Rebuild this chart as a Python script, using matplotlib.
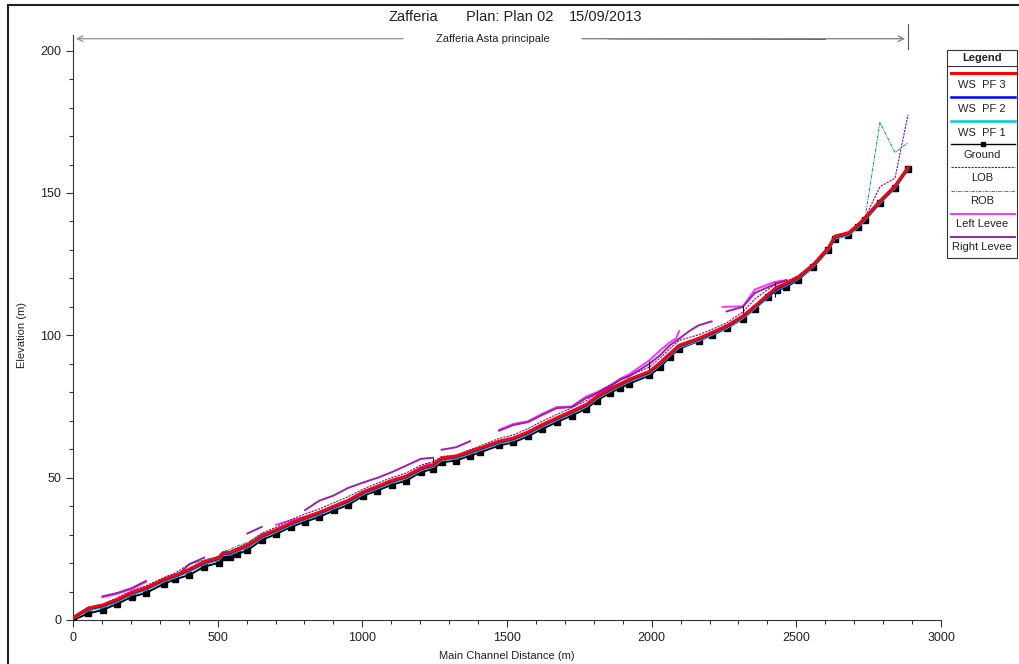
import numpy as np
import matplotlib
matplotlib.use("Agg")
import matplotlib.pyplot as plt
from matplotlib.lines import Line2D
from matplotlib.patches import Rectangle
from matplotlib.ticker import MultipleLocator

plt.rcParams['font.family'] = ['Liberation Sans', 'DejaVu Sans']

nan = np.nan

# river stations (m) and profiles (m)
station = [0, 53, 102, 153, 203, 252, 316, 353, 402, 453, 503, 519, 542, 566, 603, 652,
           702, 753, 802, 851, 902, 951, 1003, 1051, 1101, 1151, 1202, 1245, 1274, 1324,
           1372, 1407, 1473, 1522, 1572, 1621, 1672, 1723, 1774, 1810, 1857, 1892, 1922,
           1992, 2029, 2063, 2095, 2162, 2207, 2259, 2315, 2357, 2403, 2432, 2466, 2507,
           2559, 2611, 2633, 2680, 2714, 2738, 2789, 2841, 2886]
ground = [0, 2.3, 3.5, 5.7, 8.1, 9.5, 12.8, 14.3, 15.8, 18.7, 20.1, 22.0, 22.0, 23.1, 24.5,
          28.1, 30.2, 32.7, 34.5, 36.2, 38.5, 40.4, 43.7, 45.4, 47.5, 48.9, 51.9, 53.1, 55.4,
          56.0, 57.7, 58.9, 61.3, 62.4, 64.5, 67.1, 69.5, 71.8, 74.2, 77.1, 79.8, 81.6, 83.0,
          85.9, 88.8, 92.4, 95.3, 98.0, 100.0, 102.4, 105.9, 109.4, 113.5, 115.8, 117.0,
          119.6, 124.0, 129.9, 134.0, 135.2, 138.1, 140.5, 146.4, 151.7, 158.3]
ws_pf3 = [0.8, 4.2, 5.2, 7.2, 9.7, 11.3, 14.4, 15.7, 17.8, 20.4, 21.8, 23.6, 23.7, 24.8, 26.3,
          29.6, 31.7, 34.1, 36.0, 37.8, 40.0, 42.0, 45.0, 46.9, 49.0, 50.5, 53.3, 54.6, 56.9,
          57.5, 59.2, 60.4, 62.8, 63.9, 66.0, 68.6, 71.0, 73.3, 75.7, 78.5, 81.2, 83.0, 84.5,
          87.3, 90.4, 93.6, 96.5, 98.9, 100.9, 103.3, 106.8, 110.3, 114.4, 116.9, 118.3,
          120.5, 124.9, 130.8, 134.8, 136.0, 138.9, 141.4, 147.2, 152.5, 159.0]
ws_pf2 = [0.7, 3.9, 4.9, 6.9, 9.4, 11.0, 14.1, 15.4, 17.5, 20.1, 21.5, 23.3, 23.4, 24.5, 26.0,
          29.3, 31.4, 33.8, 35.7, 37.5, 39.7, 41.7, 44.7, 46.6, 48.7, 50.2, 53.0, 54.3, 56.6,
          57.2, 58.9, 60.1, 62.5, 63.6, 65.7, 68.3, 70.7, 73.0, 75.4, 78.2, 80.9, 82.7, 84.2,
          87.0, 90.1, 93.3, 96.2, 98.6, 100.6, 103.0, 106.5, 110.0, 113.9, 116.3, 117.9,
          120.2, 124.6, 130.5, 134.5, 135.7, 138.6, 141.1, 146.9, 152.2, 158.7]
ws_pf1 = [0.5, 3.5, 4.5, 6.5, 9.0, 10.6, 13.7, 15.0, 17.1, 19.7, 21.1, 22.9, 23.0, 24.1, 25.6,
          28.9, 31.0, 33.4, 35.3, 37.1, 39.3, 41.3, 44.3, 46.2, 48.3, 49.8, 52.6, 53.9, 56.2,
          56.8, 58.5, 59.7, 62.1, 63.2, 65.3, 67.9, 70.3, 72.6, 75.0, 77.8, 80.5, 82.3, 83.8,
          86.6, 89.7, 92.9, 95.8, 98.2, 100.2, 102.6, 106.1, 109.6, 113.6, 116.0, 117.6,
          119.9, 124.2, 130.1, 134.1, 135.3, 138.2, 140.7, 146.5, 151.8, 158.4]
lob = [1.0, 4.5, 5.6, 7.8, 10.3, 12.0, 15.0, 16.5, 19.6, 21.0, 22.3, 24.0, 24.2, 25.3, 27.0,
       30.5, 32.6, 35.2, 37.3, 39.0, 41.2, 43.3, 46.0, 48.0, 50.0, 51.6, 54.4, 55.6, 57.4,
       58.0, 59.8, 61.1, 63.8, 65.0, 67.2, 69.8, 72.2, 74.5, 77.0, 79.8, 82.5, 84.4, 85.8,
       88.8, 92.0, 95.3, 98.2, 100.2, 102.0, 104.4, 108.2, 112.8, 116.2, 118.3, 119.0,
       121.0, 125.2, 131.0, 135.0, 136.2, 139.2, 141.5, 152.2, 155.2, 177.5]
rob = [1.2, 4.4, 5.4, 7.4, 9.9, 11.5, 14.7, 16.0, 18.2, 21.0, 22.4, 24.0, 24.8, 26.0, 27.2,
       30.2, 32.0, 34.4, 36.3, 38.1, 40.3, 42.3, 45.3, 47.2, 49.3, 50.8, 53.6, 54.9, 57.2,
       57.8, 59.5, 60.7, 63.1, 64.2, 66.3, 68.9, 71.3, 73.6, 76.0, 78.8, 81.5, 83.3, 84.8,
       87.6, 90.7, 93.9, 96.8, 99.2, 101.2, 103.6, 107.1, 110.6, 114.7, 117.2, 118.6,
       120.8, 125.2, 131.1, 135.1, 136.3, 139.2, 141.6, 174.8, 164.2, 167.7]

left_levee_x = [102, 153, 203, 252, nan,
                702, 753, 802, 851, 902, 951, 1003, 1051, 1101, 1151, 1202, 1232, nan,
                1473, 1522, 1572, 1621, 1672, 1723, 1774, 1810, 1857, 1892, 1922, 1992, 2029,
                2063, 2085, 2095, nan,
                2245, 2315, 2357, 2426, 2466]
left_levee_y = [8.0, 9.2, 10.9, 13.4, nan,
                33.5, 35.0, 36.3, 37.8, 39.6, 41.9, 44.8, 46.4, 48.3, 50.7, 53.6, 55.0, nan,
                66.8, 68.9, 69.8, 72.4, 74.8, 75.0, 78.5, 80.0, 82.5, 84.8, 86.3, 91.2, 94.7,
                97.6, 99.0, 101.5, nan,
                110.0, 110.2, 116.1, 118.8, 119.4]
right_levee_x = [102, 153, 203, 252, nan, 370, 402, 453, nan, 603, 652, nan,
                 802, 851, 900, 951, 1003, 1051, 1101, 1151, 1202, 1245, nan,
                 1274, 1324, 1372, nan,
                 1473, 1522, 1572, 1621, 1672, 1723, 1774, 1810, 1857, 1892, 1922, 1992,
                 2029, 2063, 2095, 2130, 2162, 2207, nan,
                 2259, 2315, 2357, 2426, 2466]
right_levee_y = [8.3, 9.5, 11.2, 13.7, nan, 16.5, 19.6, 21.9, nan, 30.4, 32.7, nan,
                 38.6, 41.9, 43.7, 46.4, 48.3, 49.9, 51.9, 54.2, 56.6, 57.0, nan,
                 59.8, 60.7, 62.8, nan,
                 66.5, 68.5, 69.5, 72.0, 74.4, 74.8, 78.0, 79.5, 82.0, 84.5, 85.6, 90.0,
                 93.0, 96.5, 98.8, 101.5, 103.5, 104.9, nan,
                 108.4, 110.0, 114.9, 118.0, 119.4]

# structures (bridges / weirs)
struct_x = [1245, 1992, 2315, 2426]
struct_lo = [53.1, 85.9, 105.9, 113.5]
struct_hi = [57.0, 91.0, 110.2, 118.8]

W, H = 1019, 664
fig = plt.figure(figsize=(W / 100, H / 100), dpi=100)


def fx(px):
    return px / W


def fy(py):
    return 1 - py / H


ax = fig.add_axes([fx(73), fy(620), fx(941) - fx(73), fy(35) - fy(620)])

ax.plot(left_levee_x, left_levee_y, color='#ff33ff', lw=1.4, zorder=2)
ax.plot(right_levee_x, right_levee_y, color='#9922aa', lw=1.4, zorder=2)
ax.plot(station, lob, color='#880099', lw=0.8, ls=(0, (2, 1)), zorder=3)
ax.plot(station, rob, color='#119999', lw=0.8, ls=(0, (3, 1, 1, 1)), zorder=3)
ax.vlines(struct_x, struct_lo, struct_hi, color='black', lw=0.8, zorder=3)
ax.plot(station, ground, color='black', lw=1.4, marker='s', ms=3.8, zorder=4)
ax.plot(station, ws_pf1, color='#00cccc', lw=1.8, zorder=5)
ax.plot(station, ws_pf2, color='#0000ff', lw=1.8, zorder=6)
ax.plot(station, ws_pf3, color='#ff0000', lw=2.2, zorder=7)

ax.set_xlim(0, 3000)
ax.set_ylim(0, 205.5)
ax.xaxis.set_major_locator(MultipleLocator(500))
ax.xaxis.set_minor_locator(MultipleLocator(100))
ax.yaxis.set_major_locator(MultipleLocator(50))
ax.yaxis.set_minor_locator(MultipleLocator(10))
ax.set_yticks([0, 50, 100, 150, 200])
ax.tick_params(which='major', direction='out', length=5, width=0.8, labelsize=9,
               colors='#333333', labelcolor='#222222')
ax.tick_params(which='minor', direction='out', length=3, width=0.8, colors='#333333')
for s in ['top', 'right']:
    ax.spines[s].set_visible(False)
for s in ['left', 'bottom']:
    ax.spines[s].set_color('#333333')
    ax.spines[s].set_linewidth(0.8)

fig.text(fx(22), fy(335), 'Elevation (m)', rotation=90, ha='center', va='center',
         fontsize=8, color='#222222')
fig.text(fx(507), fy(656), 'Main Channel Distance (m)', ha='center', va='center',
         fontsize=8, color='#222222')

# title
fig.text(fx(413), fy(17), 'Zafferia', ha='center', va='center', fontsize=10.5, color='#222222')
fig.text(fx(510), fy(17), 'Plan: Plan 02', ha='center', va='center', fontsize=10.5, color='#222222')
fig.text(fx(606), fy(17), '15/09/2013', ha='center', va='center', fontsize=10.5, color='#222222')

# reach arrow
reach_end = station[-1]
ax.annotate('', xy=(0, 204.2), xytext=(1150, 204.2), xycoords='data',
            arrowprops=dict(arrowstyle='->', color='#999999', lw=1.0), annotation_clip=False)
ax.annotate('', xy=(reach_end, 204.2), xytext=(1750, 204.2), xycoords='data',
            arrowprops=dict(arrowstyle='->', color='#888888', lw=1.0), annotation_clip=False)
ax.plot([1850, 2600], [204.2, 204.0], color='#555555', lw=1.0, clip_on=False)
ax.plot([reach_end, reach_end], [200.7, 209.5], color='#555555', lw=0.8, clip_on=False)
ax.text(1450, 204.2, 'Zafferia Asta principale', ha='center', va='center', fontsize=8,
        color='#222222', clip_on=False)

# legend box
fig.add_artist(Rectangle((fx(947), fy(258)), fx(1017) - fx(947), fy(50) - fy(258),
                         transform=fig.transFigure, fill=False, ec='#333333', lw=0.8))
fig.add_artist(Line2D([fx(947), fx(1017)], [fy(66), fy(66)], color='#333333', lw=0.8))
fig.text(fx(982), fy(58), 'Legend', ha='center', va='center', fontsize=8, fontweight='bold',
         color='#222222')

leg_labels = ['WS  PF 3', 'WS  PF 2', 'WS  PF 1', 'Ground', 'LOB', 'ROB', 'Left Levee', 'Right Levee']
leg_line_y = [73, 97, 121, 144, 167, 191, 214, 237]
leg_text_y = [85, 109, 133, 155, 178, 201, 224, 247]
leg_styles = [dict(color='#ff0000', lw=2.2),
              dict(color='#0000ff', lw=1.8),
              dict(color='#00cccc', lw=1.8),
              dict(color='black', lw=1.0),
              dict(color='#880099', lw=0.8, ls=(0, (2, 1))),
              dict(color='#119999', lw=0.8, ls=(0, (3, 1, 1, 1))),
              dict(color='#ff33ff', lw=1.4),
              dict(color='#9922aa', lw=1.4)]
for lab, ly, ty, st in zip(leg_labels, leg_line_y, leg_text_y, leg_styles):
    fig.add_artist(Line2D([fx(951), fx(1015)], [fy(ly), fy(ly)], **st))
    fig.text(fx(982), fy(ty), lab, ha='center', va='center', fontsize=8, color='#222222')
fig.add_artist(Line2D([fx(983)], [fy(144)], marker='s', ms=3.5, color='black', lw=0))

# outer frame
fig.add_artist(Rectangle((fx(8), -0.05), 1.2, fy(5) + 0.05, transform=fig.transFigure,
                         fill=False, ec='#222222', lw=1.5))

fig.savefig('out.png', dpi=100)
